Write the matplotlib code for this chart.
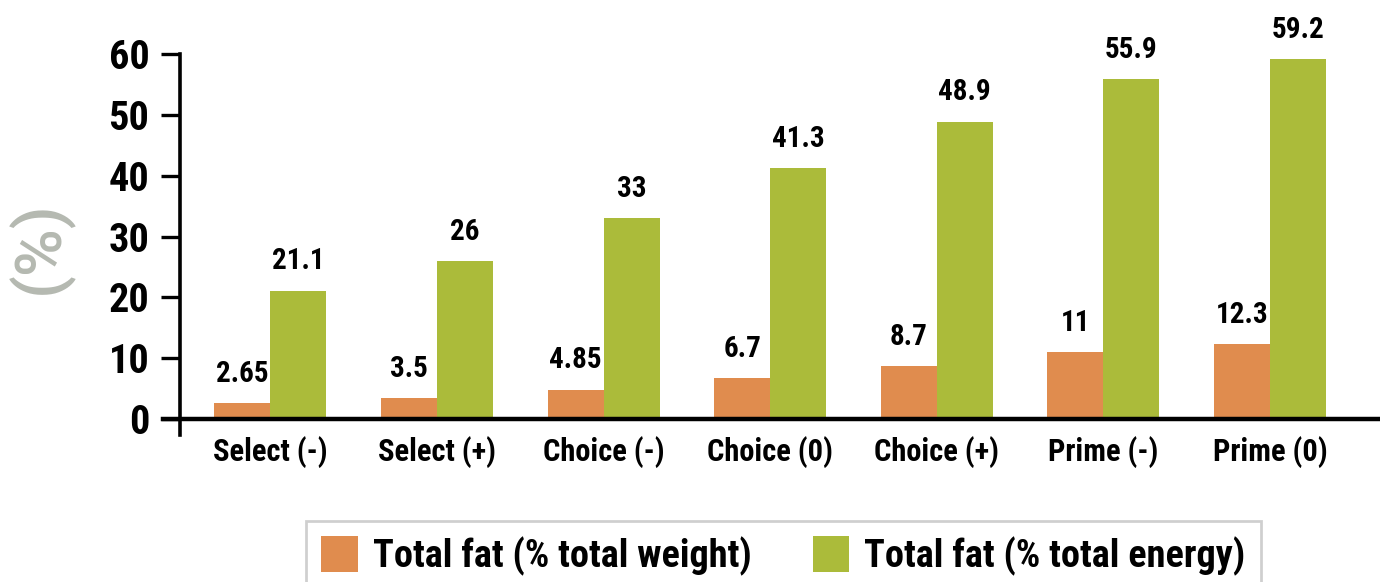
import matplotlib
matplotlib.use('Agg')
import matplotlib.pyplot as plt
import numpy as np

categories = ['Select (-)', 'Select (+)', 'Choice (-)', 'Choice (0)',
              'Choice (+)', 'Prime (-)', 'Prime (0)']
fat_weight = [2.65, 3.5, 4.85, 6.7, 8.7, 11, 12.3]
fat_energy = [21.1, 26, 33, 41.3, 48.9, 55.9, 59.2]
series_names = ['Total fat (% total weight)', 'Total fat (% total energy)']
yticks = [0, 10, 20, 30, 40, 50, 60]

ORANGE = '#E08C4E'
GREEN = '#ABBB3A'
NARROW = ['Roboto Condensed', 'DejaVu Sans']

fig = plt.figure(figsize=(13.8, 5.82), dpi=100)
ax = fig.add_axes([163/1380, 1 - 435/582, 1 - 163/1380, (435 - 54)/582])

x = np.arange(len(categories))
w = 0.336
b1 = ax.bar(x - w/2, fat_weight, w, color=ORANGE, label=series_names[0])
b2 = ax.bar(x + w/2, fat_energy, w, color=GREEN, label=series_names[1])

# value labels above each bar
for bars, vals in ((b1, fat_weight), (b2, fat_energy)):
    for r, v in zip(bars, vals):
        ax.annotate(f'{v:g}', (r.get_x() + r.get_width()/2, v),
                    xytext=(0, 11), textcoords='offset points',
                    ha='center', va='bottom', fontsize=21,
                    fontweight='bold', family=NARROW, clip_on=False)

ax.set_xlim(-0.645, 6.66)
ax.set_ylim(-2.6, 60)

ax.spines['top'].set_visible(False)
ax.spines['right'].set_visible(False)
ax.spines['left'].set_position(('data', -0.543))
ax.spines['left'].set_bounds(-2.6, 60)
ax.spines['bottom'].set_position(('data', 0))
ax.spines['left'].set_linewidth(2.6)
ax.spines['bottom'].set_linewidth(3.2)

ax.set_yticks(yticks)
ax.set_yticklabels([str(t) for t in yticks], fontsize=29, fontweight='bold',
                   family=NARROW)
ax.tick_params(axis='y', length=14, width=2.4, pad=8, direction='out')
ax.set_xticks(x)
ax.set_xticklabels(categories, fontsize=22, fontweight='bold', family=NARROW)
ax.tick_params(axis='x', length=0, pad=12)

fig.text(40/1380, 1 - 247/582, '(%)', rotation=90, ha='center', va='center',
         fontsize=47, color='#B5B9B1', fontweight='medium',
         family=['Roboto', 'DejaVu Sans'])

leg = fig.legend(handles=[b1, b2], loc='upper left',
                 bbox_to_anchor=(306/1380, 1 - 521/582), borderaxespad=0,
                 ncol=2, fancybox=False, frameon=True, edgecolor='#C4C4C4',
                 handlelength=0.95, handleheight=1.05, handletextpad=0.4,
                 columnspacing=1.6, borderpad=0.4,
                 prop={'family': NARROW, 'weight': 'bold', 'size': 27.5})
leg.get_frame().set_linewidth(2)

fig.savefig('out.png', dpi=100)
